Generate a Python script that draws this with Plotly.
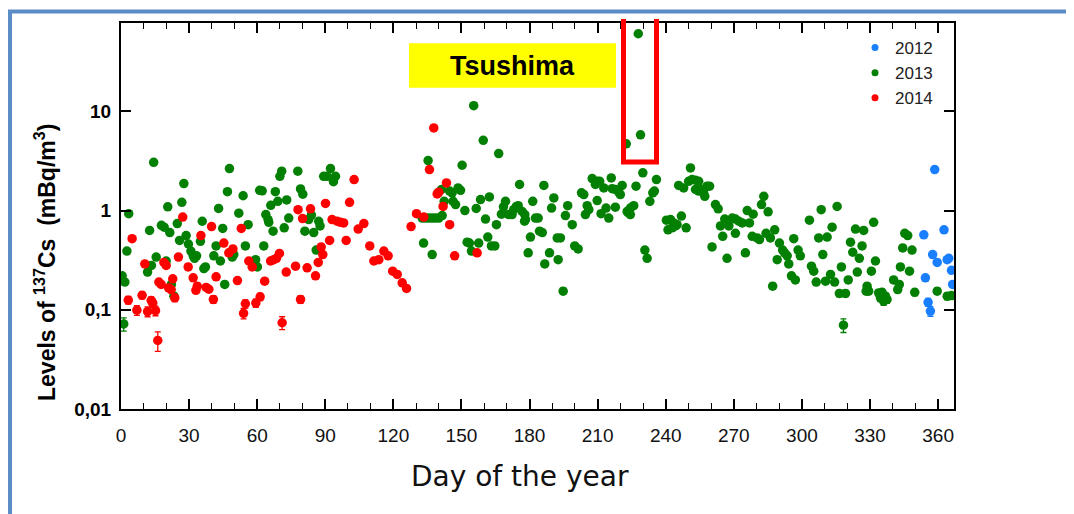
import plotly.graph_objects as go

# ---------------- data ----------------
days_2014 = [4.9, 3.2, 7.0, 9.3, 11.7, 13.3, 14.0, 15.2, 16.2, 10.5, 16.7, 17.7, 18.9, 19.9, 21.0, 22.1,
             22.8, 23.7, 25.3, 27.2, 29.6, 31.8, 33.0, 33.6, 35.2, 37.5, 38.7, 39.9, 40.7, 41.9, 45.3,
             47.5, 49.3, 51.3, 53.0, 54.0, 54.8, 56.3, 57.8, 59.4, 61.3, 63.3, 65.9, 67.3, 68.5, 69.8,
             71.0, 72.8, 76.9, 78.0, 79.1, 80.0, 82.0, 83.5, 85.7, 86.9, 88.2, 88.9, 90.1, 91.9, 93.0,
             95.2, 96.7, 98.1, 99.2, 100.7, 102.7, 104.5, 107.0, 109.6, 111.4, 113.6, 115.8, 117.7,
             119.7, 121.7, 123.9, 125.8, 127.8, 130.2, 133.4, 135.9, 137.8, 139.3, 140.0, 141.9, 143.4,
             144.8, 147.0, 156.9]
vals_2014 = [0.52, 0.125, 0.099, 0.14, 0.096, 0.124, 0.117, 0.098, 0.049, 0.29, 0.19, 0.18, 0.30, 0.28, 0.166, 0.16,
             0.205, 0.132, 0.34, 0.86, 0.27, 0.21, 0.157, 0.173, 0.56, 0.168, 0.161, 0.69, 0.127, 0.215, 0.47,
             0.375, 0.41, 0.197, 0.66, 0.092, 0.115, 0.31, 0.27, 0.117, 0.135, 0.194, 0.31, 0.32, 0.33, 0.37,
             0.074, 0.24, 0.275, 1.02, 0.127, 0.83, 0.265, 1.04, 0.22, 0.30, 0.43, 0.36, 1.18, 0.50, 0.81,
             0.78, 0.76, 0.75, 0.50, 1.21, 2.05, 0.65, 0.74, 0.44, 0.31, 0.32, 0.39, 0.35,
             0.245, 0.227, 0.187, 0.164, 0.69, 0.93, 0.86, 2.59, 6.8, 1.47, 1.53, 1.10, 1.90,
             0.72, 0.35, 0.375]

days_2013 = [0.5, 1.2, 1.7, 2.6, 3.4, 11.7, 12.6, 13.4, 14.4, 15.5, 17.8, 19.0, 19.9, 20.6, 21.5, 22.2,
             23.3, 24.8, 25.8, 26.8, 27.7, 28.7, 29.7, 30.8, 31.8, 32.4, 33.3, 35.0, 35.8, 36.5, 37.2,
             40.9, 41.9, 43.0, 43.8, 44.8, 45.7, 46.9, 47.8, 49.0, 49.7, 51.9, 53.8, 54.8, 56.0, 59.3,
             60.1, 61.1, 62.2, 62.9, 63.8, 64.8, 65.1, 66.0, 67.0, 68.0, 69.1, 70.0, 70.8, 71.9, 73.0,
             73.9, 77.9, 79.1, 80.1, 81.0, 82.7, 83.9, 84.9, 86.0, 87.1, 87.7, 89.3, 90.8, 92.3, 93.6,
             94.5,
             132.7, 133.3, 134.1, 135.3, 135.6, 137.1, 137.1, 138.5, 139.7, 140.0, 141.2, 141.5, 142.4,
             144.8, 145.9, 146.3, 147.4, 148.5, 149.6, 150.3, 151.5, 152.5, 153.5, 154.4, 155.4, 156.5,
             157.6, 158.4, 159.6, 160.6, 161.6, 162.3, 163.2, 164.7, 165.4, 166.4, 167.6, 168.5, 169.4,
             170.8, 172.3, 173.0, 174.2, 175.0, 175.6, 176.7, 177.8, 177.9, 178.2, 179.4, 180.4, 181.4,
             182.6, 183.8, 184.4, 185.6, 186.3, 186.7,
             188.8, 189.7, 190.7, 192.2, 192.6, 193.6, 194.8, 195.8, 196.8, 198.8, 199.9, 201.4, 202.9,
             203.9, 204.6, 205.4, 206.1, 207.6, 209.0, 209.8, 209.8, 210.9, 211.5, 212.7, 213.7, 214.9,
             216.0, 216.4, 217.8, 217.8, 219.3, 220.0, 220.8, 222.6, 223.0, 223.4, 224.4, 224.4, 225.9,
             226.9, 227.9, 228.9, 229.9, 230.8, 231.8, 233.0, 234.3, 235.0, 235.9, 240.3, 241.0, 242.1,
             242.8, 243.5, 244.3, 245.0, 245.7, 246.9, 247.9, 249.0, 250.1, 250.9, 251.6, 253.1, 253.1,
             254.5, 254.5, 256.0, 256.7, 257.2, 258.2, 259.3, 260.4, 261.9, 263.1, 264.1, 265.1, 266.0,
             267.0, 267.8, 269.3, 270.7, 270.7, 272.2, 273.7, 275.1, 275.9,
             276.9, 278.5, 278.1, 280.3, 281.3, 282.2, 283.2, 284.2, 285.1, 286.1, 287.1, 288.0, 289.1,
             290.1, 291.5, 292.4, 293.5, 294.2, 295.4, 296.4, 297.1, 298.3, 299.3, 303.3, 304.2, 305.2,
             306.3, 307.4, 308.5, 309.2, 310.4, 311.1, 312.6, 313.3, 314.4, 315.5, 316.5, 317.4, 318.3,
             319.2, 320.4, 321.4, 322.4, 323.6, 324.4, 325.3, 326.5, 327.2, 328.3, 328.7, 329.4, 330.6,
             331.6, 332.4, 333.8, 334.6, 335.3, 336.0, 336.8, 337.5, 340.4, 342.2, 342.9, 343.4, 344.4,
             345.3, 346.6, 347.4, 348.5, 349.7, 359.6, 364.0, 365.9]
vals_2013 = [0.22, 0.072, 0.19, 0.39, 0.93, 0.24, 0.63, 0.28, 3.06, 0.34, 0.71, 0.68, 0.31, 1.09, 0.60, 0.18,
             0.137, 0.74, 0.50, 1.21, 1.87, 0.56, 0.46, 0.39, 0.35, 0.33, 0.35, 0.49, 0.78, 0.26, 0.27,
             0.35, 0.44, 1.05, 0.31, 0.66, 0.18, 1.55, 2.65, 0.34, 0.36, 0.94, 1.41, 0.44, 0.72, 0.32,
             0.27, 1.60, 1.58, 0.44, 0.91, 0.81, 0.76, 1.13, 0.62, 1.55, 1.24, 2.21, 2.49, 0.67, 1.28,
             0.84, 2.49, 1.65, 1.46, 0.62, 0.81, 0.90, 0.60, 0.40, 0.78, 0.70, 2.21, 2.21, 2.65, 1.95,
             2.21,
             0.84, 0.47, 0.84, 3.19, 0.84, 0.84, 0.36, 0.84, 1.51, 0.84, 1.63, 0.89, 1.24,
             1.57, 1.51, 1.24, 1.15, 1.69, 1.60, 2.86, 1.0, 0.48, 0.47, 0.39, 11.4, 1.05,
             0.47, 1.29, 5.1, 0.82, 0.54, 1.37, 0.44, 0.44, 0.72, 3.75, 0.92, 1.09, 1.24,
             0.91, 0.91, 1.02, 1.10, 1.12, 1.83, 0.98, 0.78, 0.91, 0.81, 0.375, 0.54, 1.24,
             0.84, 0.84, 0.62, 0.60, 1.79, 0.29,
             0.375, 1.06, 1.34, 0.53, 0.32, 0.53, 0.154, 0.89, 1.12, 0.72, 0.44, 0.41, 1.51,
             1.45, 0.91, 1.12, 1.02, 2.10, 1.83, 1.97, 1.26, 1.97, 0.93, 1.69, 1.06, 0.84,
             2.13, 1.66, 1.63, 1.08, 1.53, 1.45, 1.79, 4.7, 0.98, 0.95, 1.06, 0.91, 1.12,
             1.76, 60.5, 5.8, 2.40, 0.40, 0.33, 1.24, 1.51, 1.57, 2.05, 0.80, 0.64, 0.81,
             0.67, 0.75, 0.70, 0.72, 1.79, 0.88, 1.69, 0.67, 1.97, 2.69, 2.05, 2.02, 1.63,
             1.97, 1.57, 1.63, 1.51, 1.39, 1.76, 1.76, 0.43, 1.15, 1.04, 0.70, 0.55, 0.82,
             0.33, 0.70, 0.84, 0.82, 0.59, 0.78, 0.75, 0.375, 1.0,
             0.75, 0.92, 0.55, 0.53, 0.51, 1.15, 1.39, 0.59, 0.97, 0.53, 0.173, 0.64, 0.32,
             0.47, 0.40, 0.375, 0.35, 0.29, 0.22, 0.52, 0.20, 0.40, 0.35, 0.80, 0.275, 0.245,
             0.19, 0.53, 1.02, 0.36, 0.194, 0.54, 0.227, 0.68, 0.19, 1.10, 0.146, 0.27, 0.070,
             0.146, 0.20, 0.48, 0.38, 0.65, 0.24, 0.33, 0.44, 0.63, 0.154, 0.173, 0.154, 0.245,
             0.76, 0.31, 0.148, 0.132, 0.150, 0.122, 0.137, 0.127, 0.20, 0.16, 0.18, 0.27, 0.42,
             0.59, 0.56, 0.245, 0.40, 0.15, 0.154, 0.137, 0.139]

days_2012 = [353.7, 354.4, 355.6, 356.6, 357.6, 358.5, 359.6, 362.6, 364.0, 364.7, 365.9, 366.4]
vals_2012 = [0.57, 0.21, 0.119, 0.097, 0.36, 2.59, 0.30, 0.64, 0.32, 0.33, 0.25, 0.18]

# typical absolute measurement uncertainty (mBq/m3), only visible on low values
meas_error = 0.011

x_ticks = [0, 30, 60, 90, 120, 150, 180, 210, 240, 270, 300, 330, 360]
y_ticks = [0.01, 0.1, 1, 10]
y_ticktext = ["0,01", "0,1", "1", "10"]

colors = {"2012": "#1a7fff", "2013": "#038003", "2014": "#ff0000"}

# ---------------- figure ----------------
fig = go.Figure()

series = [("2013", days_2013, vals_2013), ("2014", days_2014, vals_2014), ("2012", days_2012, vals_2012)]
for name, xs, ys in series:
    c = colors[name]
    fig.add_trace(go.Scatter(
        x=xs, y=ys, mode="markers", name=name, showlegend=False,
        marker=dict(symbol="circle", size=9.5, color=c, line=dict(width=0)),
        error_y=dict(type="constant", value=meas_error, color=c, thickness=1.3, width=3),
        hoverinfo="x+y",
    ))

# legend entries (small markers, like the reference)
for name in ["2012", "2013", "2014"]:
    fig.add_trace(go.Scatter(x=[None], y=[None], mode="markers", name=name,
                             marker=dict(size=7, color=colors[name])))

# the page body has an 8px margin: work in screenshot pixels and shift
OFF = 8
W, H = 1074 - OFF, 514 - OFF
L, R, T, B = 121 - OFF, 954 - OFF, 23 - OFF, 409 - OFF


def px(xs):  # screenshot x -> paper
    return (xs - OFF - L) / (R - L)


def py(ys):  # screenshot y -> paper
    return (B - (ys - OFF)) / (B - T)


shapes = [
    # slide border (top and left)
    dict(type="line", xref="paper", yref="paper", x0=px(8), x1=px(1074), y0=py(11.5), y1=py(11.5),
         line=dict(color="#5b8cc6", width=4)),
    dict(type="line", xref="paper", yref="paper", x0=px(10), x1=px(10), y0=py(11.5), y1=py(514),
         line=dict(color="#5b8cc6", width=4)),
    # yellow label box
    dict(type="rect", xref="paper", yref="paper", x0=px(409), x1=px(616), y0=py(87.7), y1=py(43.3),
         fillcolor="#ffff00", line=dict(width=0), layer="below"),
    # red highlight (open-topped box)
    dict(type="path", xref="paper", yref="paper",
         path=f"M {px(623.5)},{py(19)} L {px(623.5)},{py(162)} L {px(656.5)},{py(162)} L {px(656.5)},{py(19)}",
         line=dict(color="#ff0000", width=5)),
]

annotations = [
    dict(text="<b>Tsushima</b>", xref="paper", yref="paper", x=px(512.5), y=py(66), showarrow=False,
         font=dict(family="Liberation Sans, Arial, sans-serif", size=27, color="#000000"),
         xanchor="center", yanchor="middle"),
    dict(text="<b>Levels of <sup>137</sup>Cs  (mBq/m<sup>3</sup>)</b>", xref="paper", yref="paper",
         x=px(45), y=py(263), showarrow=False, textangle=-90,
         font=dict(family="Liberation Sans, Arial, sans-serif", size=23, color="#000000"),
         xanchor="center", yanchor="middle"),
    dict(text="Day of the year", xref="paper", yref="paper", x=px(520), y=py(476), showarrow=False,
         font=dict(family="DejaVu Sans, sans-serif", size=28, color="#111111"),
         xanchor="center", yanchor="middle"),
]

fig.update_layout(
    width=W, height=H,
    margin=dict(l=L, r=W - R, t=T, b=H - B, pad=0),
    paper_bgcolor="white", plot_bgcolor="white",
    font=dict(family="Liberation Sans, Arial, sans-serif", color="#000000"),
    shapes=shapes, annotations=annotations,
    showlegend=True,
    legend=dict(x=px(855), y=py(30), xanchor="left", yanchor="top",
                bgcolor="rgba(0,0,0,0)", borderwidth=0,
                font=dict(family="Liberation Sans, Arial, sans-serif", size=17, color="#222222"),
                itemclick=False, itemdoubleclick=False),
)

fig.update_xaxes(
    range=[0, 367], tickvals=x_ticks, ticks="inside", ticklen=10, tickwidth=1.5, tickcolor="#000",
    minor=dict(dtick=10, tick0=0, ticks="inside", ticklen=6, tickwidth=1.2, tickcolor="#000"),
    showline=True, linewidth=2, linecolor="#000", mirror="allticks",
    showgrid=False, zeroline=False,
    tickfont=dict(family="Liberation Sans, Arial, sans-serif", size=19, color="#111111"),
    ticklabelstandoff=8,
)
fig.update_yaxes(
    type="log", range=[-2, 1.89], tickvals=y_ticks, ticktext=y_ticktext,
    ticks="inside", ticklen=10, tickwidth=1.5, tickcolor="#000",
    showline=True, linewidth=2, linecolor="#000", mirror="allticks",
    showgrid=False, zeroline=False,
    tickfont=dict(family="Liberation Sans, Arial, sans-serif", size=19, color="#000000", weight="bold"),
    ticklabelstandoff=4,
)

fig.write_html("out.html", config={"displayModeBar": False})
